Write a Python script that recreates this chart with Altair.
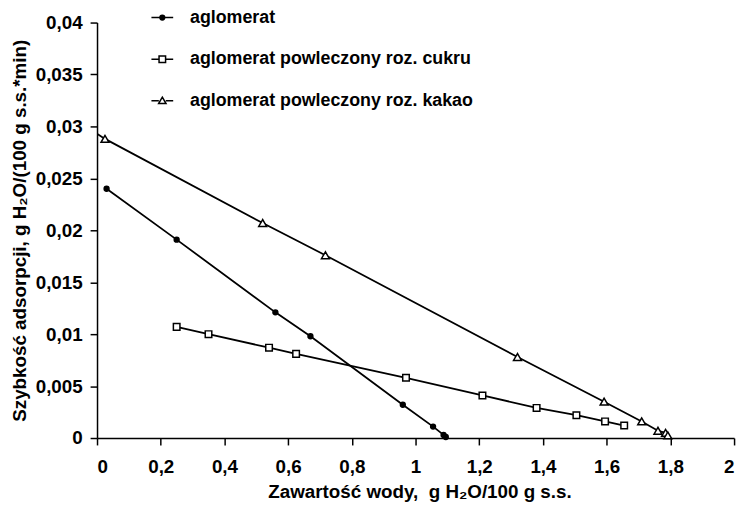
import altair as alt
import pandas as pd

series_names = [
    "aglomerat",
    "aglomerat powleczony roz. cukru",
    "aglomerat powleczony roz. kakao",
]

x_agl = [0.03, 0.25, 0.56, 0.67, 0.96, 1.055, 1.088, 1.095]
y_agl = [0.0240, 0.0191, 0.0121, 0.0098, 0.0032, 0.0011, 0.0003, 0.0001]

x_cuk = [0.25, 0.35, 0.54, 0.625, 0.97, 1.21, 1.38, 1.505, 1.595, 1.655]
y_cuk = [0.0107, 0.0100, 0.0087, 0.0081, 0.0058, 0.0041, 0.0029, 0.0022, 0.0016, 0.0012]

x_kak = [0.0, 0.025, 0.52, 0.717, 1.32, 1.592, 1.71, 1.761, 1.785, 1.792]
y_kak = [0.0293, 0.0288, 0.0207, 0.0176, 0.0078, 0.0035, 0.0016, 0.0007, 0.0005, 0.00025]

x_ticks = [0, 0.2, 0.4, 0.6, 0.8, 1.0, 1.2, 1.4, 1.6, 1.8, 2.0]
y_ticks = [0, 0.005, 0.01, 0.015, 0.02, 0.025, 0.03, 0.035, 0.04]

rows = []
for name, xs, ys in zip(series_names, [x_agl, x_cuk, x_kak], [y_agl, y_cuk, y_kak]):
    for i, (xv, yv) in enumerate(zip(xs, ys)):
        rows.append({"series": name, "x": xv, "y": yv, "i": i})
df = pd.DataFrame(rows)

FONT = "Liberation Sans"
label_expr = "replace(format(datum.value, '~g'), '.', ',')"

x_enc = alt.X(
    "x:Q",
    scale=alt.Scale(domain=[0, 2], nice=False, zero=False),
    axis=alt.Axis(
        values=x_ticks,
        labelExpr=label_expr,
        title="Zawartość wody,\u00a0 g H₂O/100 g s.s.",
        grid=False,
        labelPadding=13,
        titlePadding=6,
        titleX=326,
    ),
)
y_enc = alt.Y(
    "y:Q",
    scale=alt.Scale(domain=[0, 0.04], nice=False),
    axis=alt.Axis(
        values=y_ticks,
        labelExpr=label_expr,
        title="Szybkość adsorpcji, g H₂O/(100 g s.s.*min)",
        grid=False,
        labelPadding=8,
        titlePadding=6,
    ),
)

lines = alt.Chart(df).mark_line(color="black", strokeWidth=1.8, clip=True).encode(
    x=x_enc, y=y_enc, detail="series:N", order="i:Q"
)

shape_plot = alt.Scale(domain=series_names, range=["circle", "square", "triangle-up"])
fill_scale = alt.Scale(domain=series_names, range=["black", "white", "white"])
size_scale = alt.Scale(domain=series_names, range=[24, 64, 70])

points = (
    alt.Chart(df)
    .transform_filter("datum.x > 0")
    .mark_point(filled=True, stroke="black", strokeWidth=1.5, opacity=1)
    .encode(
        x="x:Q",
        y="y:Q",
        shape=alt.Shape("series:N", scale=shape_plot, legend=None),
        fill=alt.Fill("series:N", scale=fill_scale, legend=None),
        size=alt.Size("series:N", scale=size_scale, legend=None),
    )
)

legend_paths = [
    "M-1,0H1"
    "M0.22,0A0.22,0.22,0,1,1,-0.22,0A0.22,0.22,0,1,1,0.22,0Z"
    "M0.13,0A0.13,0.13,0,1,1,-0.13,0A0.13,0.13,0,1,1,0.13,0Z"
    "M0.05,0A0.05,0.05,0,1,1,-0.05,0A0.05,0.05,0,1,1,0.05,0Z",
    "M-1,0H-0.3M0.3,0H1M-0.3,-0.3H0.3V0.3H-0.3Z",
    "M-1,0H-0.32M0.32,0H1M0,-0.32L0.34,0.26L-0.34,0.26Z",
]

legend_layer = (
    alt.Chart(df)
    .transform_filter("false")
    .mark_point(filled=False, color="black", strokeWidth=1.5, opacity=1)
    .encode(
        x="x:Q",
        y="y:Q",
        shape=alt.Shape(
            "series:N",
            scale=alt.Scale(domain=series_names, range=legend_paths),
            legend=alt.Legend(
                title=None,
                orient="none",
                legendX=54,
                legendY=-17,
                symbolSize=484,
                symbolStrokeWidth=1.5,
                symbolStrokeColor="black",
                symbolFillColor="transparent",
                labelFont=FONT,
                labelFontSize=18,
                labelFontWeight="bold",
                labelColor="black",
                labelOffset=16,
                labelLimit=0,
                rowPadding=21,
                padding=0,
            ),
        ),
    )
)

chart = (
    alt.layer(lines, points, legend_layer)
    .resolve_scale(shape="independent")
    .properties(
        width=644,
        height=420,
        autosize=alt.AutoSizeParams(type="none"),
        padding={"left": 90, "top": 12, "right": 7, "bottom": 66},
        background="white",
    )
    .configure_view(stroke=None)
    .configure_axis(
        domainColor="black",
        domainWidth=1.5,
        tickColor="black",
        tickWidth=1.5,
        tickSize=7,
        labelFont=FONT,
        labelFontSize=19,
        labelFontWeight="bold",
        labelColor="black",
        titleFont=FONT,
        titleFontSize=19,
        titleFontWeight="bold",
        titleColor="black",
    )
)

chart.save("out.html", embed_options={"renderer": "svg", "actions": False})
